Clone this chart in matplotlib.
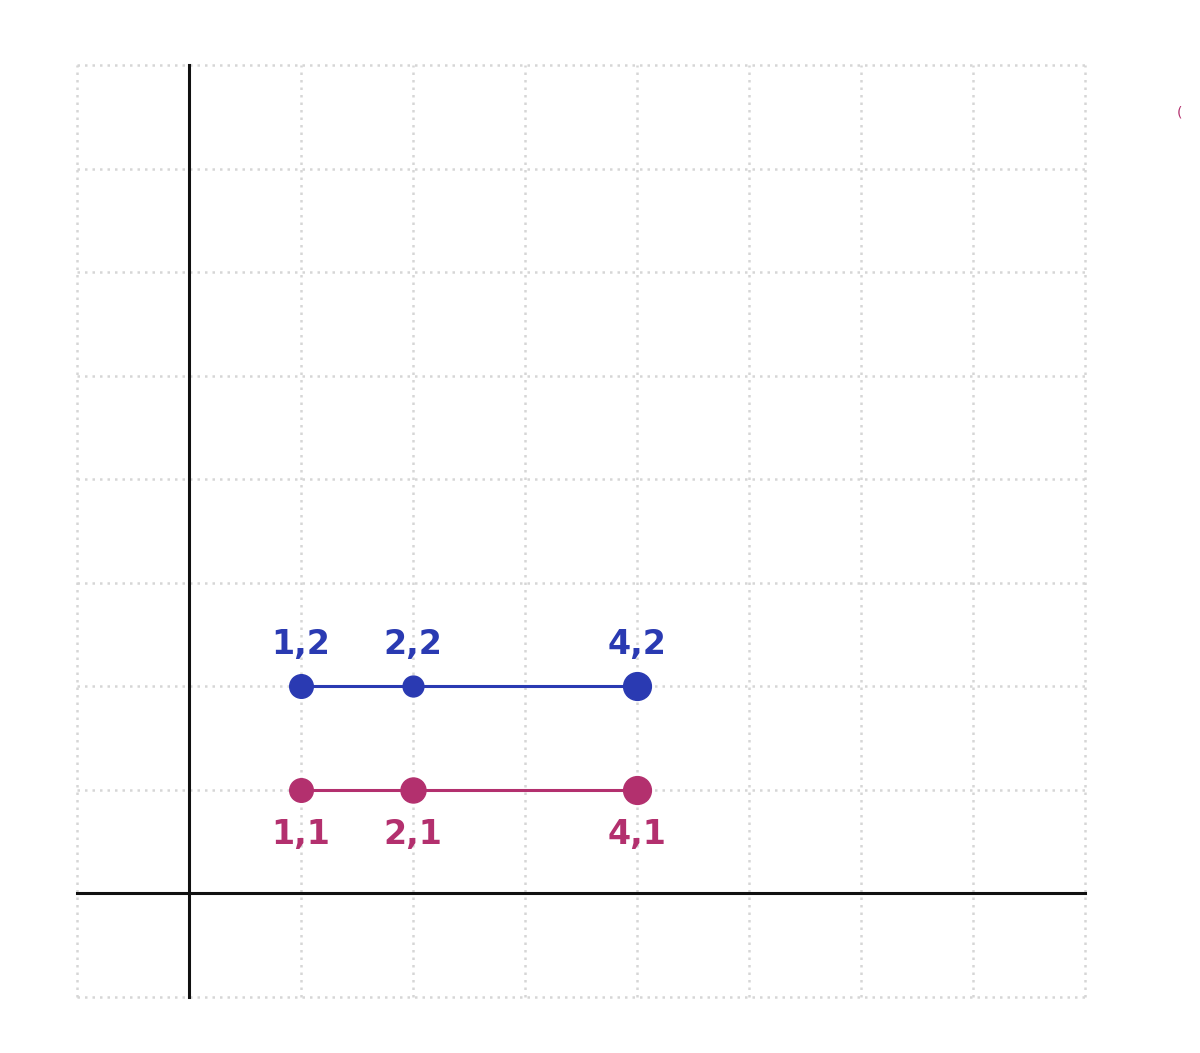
import matplotlib
matplotlib.use("Agg")
import matplotlib.pyplot as plt

# Data
blue_x = [1, 2, 4]
blue_y = [2, 2, 2]
blue_labels = ["1,2", "2,2", "4,2"]
blue_sizes = [17, 15, 20]

pink_x = [1, 2, 4]
pink_y = [1, 1, 1]
pink_labels = ["1,1", "2,1", "4,1"]
pink_sizes = [17, 18, 20]

grid_ticks = list(range(-1, 9))

BLUE = "#2a3ab2"
PINK = "#b3306e"

fig = plt.figure(figsize=(12, 10.53), dpi=100)
ax = fig.add_axes([77 / 1200, 56 / 1053, 1008 / 1200, 932 / 1053])
ax.set_xlim(-1, 8)
ax.set_ylim(-1, 8)
for s in ax.spines.values():
    s.set_visible(False)
ax.set_xticks([])
ax.set_yticks([])

# dotted grid
for t in grid_ticks:
    ax.plot([t, t], [-1, 8], color="#d6d6d6", lw=1.8, ls=(0, (1, 2)), zorder=1,
            clip_on=False)
    ax.plot([-1, 8], [t, t], color="#d6d6d6", lw=1.8, ls=(0, (1, 2)), zorder=1,
            clip_on=False)

# axes
ax.plot([0, 0], [-1, 8], color="#111111", lw=2.2, zorder=2, clip_on=False)
ax.plot([-1, 8], [0, 0], color="#111111", lw=2.2, zorder=2, clip_on=False)

# series
ax.plot(blue_x, blue_y, color=BLUE, lw=2.2, zorder=3)
for x, y, s, lab in zip(blue_x, blue_y, blue_sizes, blue_labels):
    ax.plot([x], [y], "o", color=BLUE, ms=s, zorder=4)
    ax.annotate(lab, (x, y), xytext=(0, 30), textcoords="offset points",
                ha="center", va="center", color=BLUE, fontsize=24,
                fontweight="bold")

ax.plot(pink_x, pink_y, color=PINK, lw=2.2, zorder=3)
for x, y, s, lab in zip(pink_x, pink_y, pink_sizes, pink_labels):
    ax.plot([x], [y], "o", color=PINK, ms=s, zorder=4)
    ax.annotate(lab, (x, y), xytext=(0, -32), textcoords="offset points",
                ha="center", va="center", color=PINK, fontsize=24,
                fontweight="bold")

fig.text(1180 / 1200, 1 - 113 / 1053, "(", color=PINK, fontsize=10,
         ha="center", va="center")

fig.savefig("out.png", dpi=100, facecolor="white")
